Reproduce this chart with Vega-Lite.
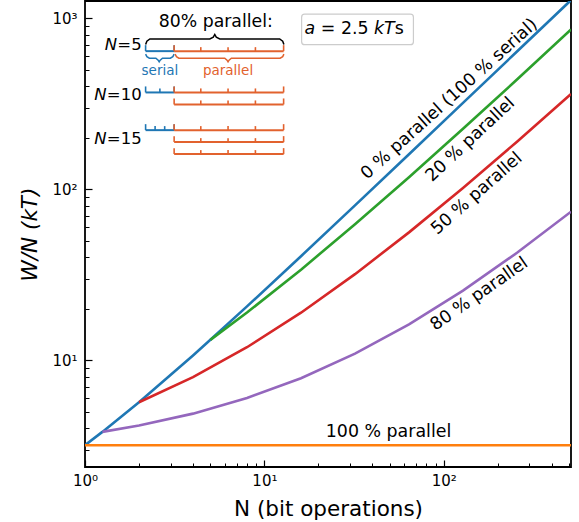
{
  "$schema": "https://vega.github.io/schema/vega-lite/v6.json",
  "width": 486,
  "height": 466,
  "autosize": {"type": "none"},
  "padding": {"left": 85, "top": 1, "right": 8, "bottom": 55},
  "background": "white",
  "config": {
    "view": {"stroke": "black", "strokeWidth": 1.8},
    "font": "DejaVu Sans",
    "axis": {
      "grid": false,
      "domain": false,
      "labelFont": "DejaVu Sans",
      "titleFont": "DejaVu Sans",
      "labelColor": "black",
      "titleColor": "black",
      "tickColor": "black",
      "titleFontWeight": "normal",
      "labelFlush": false,
      "labelOverlap": false,
      "labelBound": false
    }
  },
  "datasets": {
    "curves": [
      {"series": "0 %", "N": 1, "W": 3.193},
      {"series": "0 %", "N": 1.25, "W": 3.818},
      {"series": "0 %", "N": 2, "W": 5.693},
      {"series": "0 %", "N": 4, "W": 10.693},
      {"series": "0 %", "N": 5, "W": 13.193},
      {"series": "0 %", "N": 8, "W": 20.693},
      {"series": "0 %", "N": 16, "W": 40.693},
      {"series": "0 %", "N": 32, "W": 80.693},
      {"series": "0 %", "N": 64, "W": 160.69},
      {"series": "0 %", "N": 128, "W": 320.69},
      {"series": "0 %", "N": 256, "W": 640.69},
      {"series": "0 %", "N": 512, "W": 1280.7},
      {"series": "20 %", "N": 5, "W": 13.193},
      {"series": "20 %", "N": 8, "W": 19.05},
      {"series": "20 %", "N": 16, "W": 33.95},
      {"series": "20 %", "N": 32, "W": 62.51},
      {"series": "20 %", "N": 64, "W": 117.9},
      {"series": "20 %", "N": 128, "W": 226.2},
      {"series": "20 %", "N": 256, "W": 439.4},
      {"series": "20 %", "N": 512, "W": 860.9},
      {"series": "50 %", "N": 2, "W": 5.693},
      {"series": "50 %", "N": 4, "W": 7.979},
      {"series": "50 %", "N": 8, "W": 11.943},
      {"series": "50 %", "N": 16, "W": 19.01},
      {"series": "50 %", "N": 32, "W": 31.94},
      {"series": "50 %", "N": 64, "W": 56.09},
      {"series": "50 %", "N": 128, "W": 101.94},
      {"series": "50 %", "N": 256, "W": 190.23},
      {"series": "50 %", "N": 512, "W": 361.94},
      {"series": "80 %", "N": 1.25, "W": 3.818},
      {"series": "80 %", "N": 2, "W": 4.158},
      {"series": "80 %", "N": 4, "W": 4.883},
      {"series": "80 %", "N": 8, "W": 6.024},
      {"series": "80 %", "N": 16, "W": 7.871},
      {"series": "80 %", "N": 32, "W": 10.95},
      {"series": "80 %", "N": 64, "W": 16.25},
      {"series": "80 %", "N": 128, "W": 25.61},
      {"series": "80 %", "N": 256, "W": 42.6},
      {"series": "80 %", "N": 512, "W": 74.13},
      {"series": "100 %", "N": 1, "W": 3.193},
      {"series": "100 %", "N": 512, "W": 3.193}
    ],
    "notes": [
      {"series": "0 %", "text": "0 % parallel (100 % serial)", "N": 107.4, "W": 337.4},
      {"series": "20 %", "text": "20 % parallel", "N": 140.6, "W": 195.6},
      {"series": "50 %", "text": "50 % parallel", "N": 152.9, "W": 94.5},
      {"series": "80 %", "text": "80 % parallel", "N": 157.8, "W": 24.4},
      {"series": "100 %", "text": "100 % parallel", "N": 49.2, "W": 3.81}
    ],
    "box": [
      {"x": 16.13, "x2": 67.74, "y": 1059.5, "y2": 702.9}
    ],
    "segs": [
      {"part": "serial", "x": 2.177, "x2": 3.14, "y": 643.9},
      {"part": "serial", "x": 2.177, "x2": 3.14, "y": 369.2},
      {"part": "serial", "x": 2.177, "x2": 3.14, "y": 222.2},
      {"part": "parallel", "x": 3.14, "x2": 12.8, "y": 643.9},
      {"part": "parallel", "x": 3.14, "x2": 12.8, "y": 369.2},
      {"part": "parallel", "x": 3.14, "x2": 12.8, "y": 314.1},
      {"part": "parallel", "x": 3.14, "x2": 12.8, "y": 222.2},
      {"part": "parallel", "x": 3.14, "x2": 12.8, "y": 189.1},
      {"part": "parallel", "x": 3.14, "x2": 12.8, "y": 160.9}
    ],
    "ticks": [
      {"part": "serial", "x": 2.177, "y": 643.9, "y2": 698.2},
      {"part": "serial", "x": 3.14, "y": 643.9, "y2": 698.2},
      {"part": "serial", "x": 2.177, "y": 369.2, "y2": 400.3},
      {"part": "serial", "x": 2.615, "y": 369.2, "y2": 389.7},
      {"part": "serial", "x": 3.14, "y": 369.2, "y2": 400.3},
      {"part": "serial", "x": 2.177, "y": 222.2, "y2": 240.9},
      {"part": "serial", "x": 2.459, "y": 222.2, "y2": 234.6},
      {"part": "serial", "x": 2.781, "y": 222.2, "y2": 234.6},
      {"part": "serial", "x": 3.14, "y": 222.2, "y2": 240.9},
      {"part": "parallel", "x": 3.14, "y": 643.9, "y2": 698.2},
      {"part": "parallel", "x": 4.421, "y": 643.9, "y2": 679.6},
      {"part": "parallel", "x": 6.273, "y": 643.9, "y2": 679.6},
      {"part": "parallel", "x": 8.912, "y": 643.9, "y2": 679.6},
      {"part": "parallel", "x": 12.8, "y": 643.9, "y2": 698.2},
      {"part": "parallel", "x": 3.14, "y": 369.2, "y2": 400.3},
      {"part": "parallel", "x": 4.421, "y": 369.2, "y2": 389.7},
      {"part": "parallel", "x": 6.273, "y": 369.2, "y2": 389.7},
      {"part": "parallel", "x": 8.912, "y": 369.2, "y2": 389.7},
      {"part": "parallel", "x": 12.8, "y": 369.2, "y2": 400.3},
      {"part": "parallel", "x": 3.14, "y": 314.1, "y2": 340.5},
      {"part": "parallel", "x": 4.421, "y": 314.1, "y2": 331.5},
      {"part": "parallel", "x": 6.273, "y": 314.1, "y2": 331.5},
      {"part": "parallel", "x": 8.912, "y": 314.1, "y2": 331.5},
      {"part": "parallel", "x": 12.8, "y": 314.1, "y2": 340.5},
      {"part": "parallel", "x": 3.14, "y": 222.2, "y2": 240.9},
      {"part": "parallel", "x": 4.421, "y": 222.2, "y2": 234.6},
      {"part": "parallel", "x": 6.273, "y": 222.2, "y2": 234.6},
      {"part": "parallel", "x": 8.912, "y": 222.2, "y2": 234.6},
      {"part": "parallel", "x": 12.8, "y": 222.2, "y2": 240.9},
      {"part": "parallel", "x": 3.14, "y": 189.1, "y2": 205.0},
      {"part": "parallel", "x": 4.421, "y": 189.1, "y2": 199.5},
      {"part": "parallel", "x": 6.273, "y": 189.1, "y2": 199.5},
      {"part": "parallel", "x": 8.912, "y": 189.1, "y2": 199.5},
      {"part": "parallel", "x": 12.8, "y": 189.1, "y2": 205.0},
      {"part": "parallel", "x": 3.14, "y": 160.9, "y2": 174.4},
      {"part": "parallel", "x": 4.421, "y": 160.9, "y2": 169.8},
      {"part": "parallel", "x": 6.273, "y": 160.9, "y2": 169.8},
      {"part": "parallel", "x": 8.912, "y": 160.9, "y2": 169.8},
      {"part": "parallel", "x": 12.8, "y": 160.9, "y2": 174.4}
    ],
    "braces": [
      {"brace": "top", "part": "all", "i": 0, "x": 2.177, "y": 704.7},
      {"brace": "top", "part": "all", "i": 1, "x": 2.213, "y": 736.6},
      {"brace": "top", "part": "all", "i": 2, "x": 2.3, "y": 758.9},
      {"brace": "top", "part": "all", "i": 3, "x": 4.963, "y": 758.9},
      {"brace": "top", "part": "all", "i": 4, "x": 5.19, "y": 777.4},
      {"brace": "top", "part": "all", "i": 5, "x": 5.29, "y": 806.3},
      {"brace": "top", "part": "all", "i": 6, "x": 5.393, "y": 777.4},
      {"brace": "top", "part": "all", "i": 7, "x": 5.64, "y": 758.9},
      {"brace": "top", "part": "all", "i": 8, "x": 12.17, "y": 758.9},
      {"brace": "top", "part": "all", "i": 9, "x": 12.65, "y": 736.6},
      {"brace": "top", "part": "all", "i": 10, "x": 12.85, "y": 704.7},
      {"brace": "ser", "part": "serial", "i": 0, "x": 2.177, "y": 618.4},
      {"brace": "ser", "part": "serial", "i": 1, "x": 2.213, "y": 597.8},
      {"brace": "ser", "part": "serial", "i": 2, "x": 2.285, "y": 586.1},
      {"brace": "ser", "part": "serial", "i": 3, "x": 2.484, "y": 586.1},
      {"brace": "ser", "part": "serial", "i": 4, "x": 2.558, "y": 570.4},
      {"brace": "ser", "part": "serial", "i": 5, "x": 2.591, "y": 557.6},
      {"brace": "ser", "part": "serial", "i": 6, "x": 2.625, "y": 570.4},
      {"brace": "ser", "part": "serial", "i": 7, "x": 2.703, "y": 586.1},
      {"brace": "ser", "part": "serial", "i": 8, "x": 2.991, "y": 586.1},
      {"brace": "ser", "part": "serial", "i": 9, "x": 3.088, "y": 597.8},
      {"brace": "ser", "part": "serial", "i": 10, "x": 3.14, "y": 618.4},
      {"brace": "par", "part": "parallel", "i": 0, "x": 3.18, "y": 618.4},
      {"brace": "par", "part": "parallel", "i": 1, "x": 3.234, "y": 597.8},
      {"brace": "par", "part": "parallel", "i": 2, "x": 3.335, "y": 586.1},
      {"brace": "par", "part": "parallel", "i": 3, "x": 6.012, "y": 586.1},
      {"brace": "par", "part": "parallel", "i": 4, "x": 6.192, "y": 570.4},
      {"brace": "par", "part": "parallel", "i": 5, "x": 6.272, "y": 557.6},
      {"brace": "par", "part": "parallel", "i": 6, "x": 6.353, "y": 570.4},
      {"brace": "par", "part": "parallel", "i": 7, "x": 6.543, "y": 586.1},
      {"brace": "par", "part": "parallel", "i": 8, "x": 12.24, "y": 586.1},
      {"brace": "par", "part": "parallel", "i": 9, "x": 12.65, "y": 597.8},
      {"brace": "par", "part": "parallel", "i": 10, "x": 12.85, "y": 618.4}
    ],
    "heading": [
      {"text": "80% parallel:", "x": 5.36, "y": 893.0}
    ],
    "nlabel": [
      {"text": "N", "x": 1.511, "y": 695.0},
      {"text": "N", "x": 1.32, "y": 357.5},
      {"text": "N", "x": 1.32, "y": 197.4}
    ],
    "nvalue": [
      {"text": "=5", "x": 2.07, "y": 695.0},
      {"text": "=10", "x": 2.07, "y": 357.5},
      {"text": "=15", "x": 2.07, "y": 197.4}
    ],
    "parts": [
      {"part": "serial", "text": "serial", "x": 2.615, "y": 466.1},
      {"part": "parallel", "text": "parallel", "x": 6.273, "y": 466.1}
    ],
    "boxitalic": [
      {"text": "a", "x": 16.76, "y": 865.8},
      {"text": "kT", "x": 40.83, "y": 865.8}
    ],
    "boxnormal": [
      {"text": "= 2.5", "x": 20.63, "y": 865.8},
      {"text": "s", "x": 53.23, "y": 865.8}
    ]
  },
  "resolve": {"axis": {"x": "independent", "y": "independent"}},
  "layer": [
    {
      "data": {"name": "box"},
      "mark": {"type": "rect", "fill": "white", "stroke": "#cccccc", "strokeWidth": 1.2, "cornerRadius": 3},
      "encoding": {
        "x": {"field": "x", "type": "quantitative",
              "scale": {"type": "log", "domain": [1, 512], "nice": false},
              "axis": {"orient": "bottom", "title": null, "labels": false, "tickSize": 4, "offset": -4, "tickWidth": 1,
                       "values": [2,3,4,5,6,7,8,9,20,30,40,50,60,70,80,90,200,300,400,500]}},
        "x2": {"field": "x2"},
        "y": {"field": "y", "type": "quantitative",
              "scale": {"type": "log", "domain": [2.38, 1265], "nice": false},
              "axis": {"orient": "left", "title": null, "labels": false, "tickSize": 4, "offset": -4, "tickWidth": 1,
                       "values": [3,4,5,6,7,8,9,20,30,40,50,60,70,80,90,200,300,400,500,600,700,800,900]}},
        "y2": {"field": "y2"}
      }
    },
    {
      "data": {"name": "curves"},
      "mark": {"type": "line", "strokeWidth": 2.6, "clip": true},
      "encoding": {
        "x": {"field": "N", "type": "quantitative",
              "scale": {"type": "log", "domain": [1, 512], "nice": false},
              "axis": {"orient": "bottom", "values": [1, 10, 100],
                       "labelExpr": "'10' + ['⁰','¹','²','³'][round(log(datum.value)/LN10)]",
                       "tickSize": 7, "offset": -7, "tickWidth": 1.2, "labelPadding": 6,
                       "labelFontSize": 15, "title": "N (bit operations)", "titleFontSize": 21.5, "titlePadding": 10}},
        "y": {"field": "W", "type": "quantitative",
              "scale": {"type": "log", "domain": [2.38, 1265], "nice": false},
              "axis": {"orient": "left", "values": [10, 100, 1000],
                       "labelExpr": "'10' + ['⁰','¹','²','³'][round(log(datum.value)/LN10)]",
                       "tickSize": 7, "offset": -7, "tickWidth": 1.2, "labelPadding": 8,
                       "labelFontSize": 15, "title": "W/N (kT)", "titleFontSize": 21.5, "titleFontStyle": "italic", "titlePadding": 10}},
        "color": {"field": "series", "type": "nominal",
                  "scale": {"domain": ["0 %", "20 %", "50 %", "80 %", "100 %"],
                            "range": ["#1f77b4", "#2ca02c", "#d62728", "#9467bd", "#ff7f0e"]},
                  "legend": null}
      }
    },
    {
      "data": {"name": "notes"},
      "transform": [{"filter": "datum.series === '0 %'"}],
      "mark": {"type": "text", "fontSize": 17.4, "align": "center", "baseline": "middle", "color": "black", "angle": 318},
      "encoding": {
        "x": {"field": "N", "type": "quantitative", "axis": null},
        "y": {"field": "W", "type": "quantitative", "axis": null},
        "text": {"field": "text"}
      }
    },
    {
      "data": {"name": "notes"},
      "transform": [{"filter": "datum.series === '20 %'"}],
      "mark": {"type": "text", "fontSize": 17.4, "align": "center", "baseline": "middle", "color": "black", "angle": 317},
      "encoding": {
        "x": {"field": "N", "type": "quantitative", "axis": null},
        "y": {"field": "W", "type": "quantitative", "axis": null},
        "text": {"field": "text"}
      }
    },
    {
      "data": {"name": "notes"},
      "transform": [{"filter": "datum.series === '50 %'"}],
      "mark": {"type": "text", "fontSize": 17.4, "align": "center", "baseline": "middle", "color": "black", "angle": 318.5},
      "encoding": {
        "x": {"field": "N", "type": "quantitative", "axis": null},
        "y": {"field": "W", "type": "quantitative", "axis": null},
        "text": {"field": "text"}
      }
    },
    {
      "data": {"name": "notes"},
      "transform": [{"filter": "datum.series === '80 %'"}],
      "mark": {"type": "text", "fontSize": 17.4, "align": "center", "baseline": "middle", "color": "black", "angle": 325},
      "encoding": {
        "x": {"field": "N", "type": "quantitative", "axis": null},
        "y": {"field": "W", "type": "quantitative", "axis": null},
        "text": {"field": "text"}
      }
    },
    {
      "data": {"name": "notes"},
      "transform": [{"filter": "datum.series === '100 %'"}],
      "mark": {"type": "text", "fontSize": 17.4, "align": "center", "baseline": "middle", "color": "black"},
      "encoding": {
        "x": {"field": "N", "type": "quantitative", "axis": null},
        "y": {"field": "W", "type": "quantitative", "axis": null},
        "text": {"field": "text"}
      }
    },
    {
      "data": {"name": "segs"},
      "mark": {"type": "rule", "strokeWidth": 2},
      "encoding": {
        "x": {"field": "x", "type": "quantitative", "axis": null},
        "x2": {"field": "x2"},
        "y": {"field": "y", "type": "quantitative", "axis": null},
        "stroke": {"field": "part", "type": "nominal",
                   "scale": {"domain": ["serial", "parallel", "all"], "range": ["#1f77b4", "#e2622e", "black"]},
                   "legend": null}
      }
    },
    {
      "data": {"name": "ticks"},
      "mark": {"type": "rule", "strokeWidth": 1.6},
      "encoding": {
        "x": {"field": "x", "type": "quantitative", "axis": null},
        "y": {"field": "y", "type": "quantitative", "axis": null},
        "y2": {"field": "y2"},
        "stroke": {"field": "part", "type": "nominal", "legend": null}
      }
    },
    {
      "data": {"name": "braces"},
      "mark": {"type": "line", "strokeWidth": 1.5},
      "encoding": {
        "x": {"field": "x", "type": "quantitative", "axis": null},
        "y": {"field": "y", "type": "quantitative", "axis": null},
        "detail": {"field": "brace"},
        "order": {"field": "i", "type": "quantitative"},
        "stroke": {"field": "part", "type": "nominal", "legend": null}
      }
    },
    {
      "data": {"name": "heading"},
      "mark": {"type": "text", "fontSize": 17.3, "align": "center", "baseline": "alphabetic", "color": "black"},
      "encoding": {
        "x": {"field": "x", "type": "quantitative", "axis": null},
        "y": {"field": "y", "type": "quantitative", "axis": null},
        "text": {"field": "text"}
      }
    },
    {
      "data": {"name": "nlabel"},
      "mark": {"type": "text", "fontSize": 16.5, "fontStyle": "italic", "align": "right", "baseline": "middle", "color": "black"},
      "encoding": {
        "x": {"field": "x", "type": "quantitative", "axis": null},
        "y": {"field": "y", "type": "quantitative", "axis": null},
        "text": {"field": "text"}
      }
    },
    {
      "data": {"name": "nvalue"},
      "mark": {"type": "text", "fontSize": 16.5, "align": "right", "baseline": "middle", "color": "black"},
      "encoding": {
        "x": {"field": "x", "type": "quantitative", "axis": null},
        "y": {"field": "y", "type": "quantitative", "axis": null},
        "text": {"field": "text"}
      }
    },
    {
      "data": {"name": "parts"},
      "mark": {"type": "text", "fontSize": 13.5, "align": "center", "baseline": "alphabetic"},
      "encoding": {
        "x": {"field": "x", "type": "quantitative", "axis": null},
        "y": {"field": "y", "type": "quantitative", "axis": null},
        "text": {"field": "text"},
        "fill": {"field": "part", "type": "nominal",
                 "scale": {"domain": ["serial", "parallel"], "range": ["#1f77b4", "#e2622e"]},
                 "legend": null}
      }
    },
    {
      "data": {"name": "boxitalic"},
      "mark": {"type": "text", "fontSize": 17.4, "fontStyle": "italic", "align": "left", "baseline": "middle", "color": "black"},
      "encoding": {
        "x": {"field": "x", "type": "quantitative", "axis": null},
        "y": {"field": "y", "type": "quantitative", "axis": null},
        "text": {"field": "text"}
      }
    },
    {
      "data": {"name": "boxnormal"},
      "mark": {"type": "text", "fontSize": 17.4, "align": "left", "baseline": "middle", "color": "black"},
      "encoding": {
        "x": {"field": "x", "type": "quantitative", "axis": null},
        "y": {"field": "y", "type": "quantitative", "axis": null},
        "text": {"field": "text"}
      }
    }
  ]
}
